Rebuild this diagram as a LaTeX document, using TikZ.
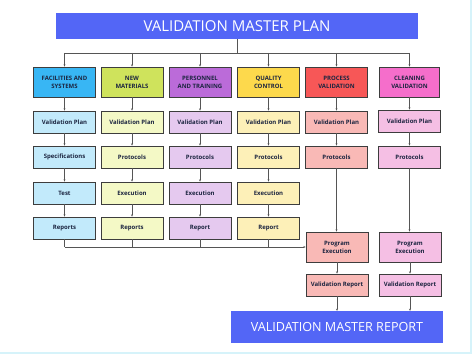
\documentclass[tikz,border=0pt]{standalone}
\usepackage{fontspec}
\setmainfont{Open Sans}
\usepackage{tikz}
\usetikzlibrary{arrows.meta, positioning, calc}

\definecolor{mainblue}{HTML}{5366F6}
\definecolor{bluehdr}{HTML}{38B6F4}
\definecolor{bluelt}{HTML}{C2EAFB}
\definecolor{limehdr}{HTML}{CFE35C}
\definecolor{limelt}{HTML}{F4F9C6}
\definecolor{purphdr}{HTML}{BB6BD9}
\definecolor{purplt}{HTML}{E5C9EF}
\definecolor{yelhdr}{HTML}{FDD94C}
\definecolor{yellt}{HTML}{FDF0B8}
\definecolor{redhdr}{HTML}{F75757}
\definecolor{redlt}{HTML}{F9B9B6}
\definecolor{pinkhdr}{HTML}{F56ECB}
\definecolor{pinklt}{HTML}{F5BFE4}
\definecolor{boxline}{HTML}{3D3D3D}
\definecolor{arrline}{HTML}{555555}
\definecolor{txt}{HTML}{1C2540}
\definecolor{framecol}{HTML}{D6F3FA}

\tikzset{
  bigbar/.style={fill=mainblue, text=white, inner sep=0pt},
  hdr/.style={draw=boxline, line width=0.9pt, minimum width=62pt, minimum height=30pt,
    inner sep=0pt, align=center, text=txt, font=\bfseries\fontsize{6}{8.2}\selectfont},
  sub/.style={hdr, minimum height=22pt},
  arr/.style={draw=arrline, line width=0.5pt, -{Stealth[length=2.2pt, width=2pt]}},
  ln/.style={draw=arrline, line width=0.5pt},
}

\begin{document}
\begin{tikzpicture}[x=1pt, y=-1pt]
        \useasboundingbox (0,0) rectangle (474,355);
        % faint frame on the right and bottom
        \draw[framecol, line width=1.5pt] (471,0) -- (471,353) -- (0,353);

        % Title and final report
        \node[bigbar, minimum width=362pt, minimum height=26pt,
              font=\fontsize{15}{17}\selectfont] (vmp) at (237,26) {VALIDATION MASTER PLAN};
        \node[bigbar, minimum width=212pt, minimum height=32pt,
              font=\fontsize{12.6}{15}\selectfont] (vmr) at (337,327) {VALIDATION MASTER REPORT};

        % Column headers
        \node[hdr, fill=bluehdr] (fac) at (64.5,82) {FACILITIES AND\\SYSTEMS};
        \node[hdr, fill=limehdr] (mat) at (132,82) {NEW\\MATERIALS};
        \node[hdr, fill=purphdr] (per) at (200,82) {PERSONNEL\\AND TRAINING};
        \node[hdr, fill=yelhdr] (qc) at (268.5,82) {QUALITY\\CONTROL};
        \node[hdr, fill=redhdr] (pv) at (336.5,82) {PROCESS\\VALIDATION};
        \node[hdr, fill=pinkhdr, minimum width=60pt] (cv) at (409.5,82) {CLEANING\\VALIDATION};

        % Facilities and systems
        \node[sub, fill=bluelt] (fac-plan) at (64.5,122) {Validation Plan};
        \node[sub, fill=bluelt] (fac-spec) at (64.5,157) {Specifications};
        \node[sub, fill=bluelt] (fac-test) at (64.5,193) {Test};
        \node[sub, fill=bluelt] (fac-rep) at (64.5,228) {Reports};

        % New materials
        \node[sub, fill=limelt] (mat-plan) at (132,122) {Validation Plan};
        \node[sub, fill=limelt] (mat-prot) at (132,157) {Protocols};
        \node[sub, fill=limelt] (mat-exec) at (132,193) {Execution};
        \node[sub, fill=limelt] (mat-rep) at (132,228) {Reports};

        % Personnel and training
        \node[sub, fill=purplt] (per-plan) at (200,122) {Validation Plan};
        \node[sub, fill=purplt] (per-prot) at (200,157) {Protocols};
        \node[sub, fill=purplt] (per-exec) at (200,193) {Execution};
        \node[sub, fill=purplt] (per-rep) at (200,228) {Report};

        % Quality control
        \node[sub, fill=yellt] (qc-plan) at (268.5,122) {Validation Plan};
        \node[sub, fill=yellt] (qc-prot) at (268.5,157) {Protocols};
        \node[sub, fill=yellt] (qc-exec) at (268.5,193) {Execution};
        \node[sub, fill=yellt] (qc-rep) at (268.5,228) {Report};

        % Process validation
        \node[sub, fill=redlt] (pv-plan) at (336.5,122) {Validation Plan};
        \node[sub, fill=redlt] (pv-prot) at (336.5,157) {Protocols};
        \node[hdr, fill=redlt] (pv-exec) at (337,247) {Program\\Execution};
        \node[sub, fill=redlt] (pv-rep) at (337,285) {Validation Report};

        % Cleaning validation
        \node[sub, fill=pinklt] (cv-plan) at (409.5,121) {Validation Plan};
        \node[sub, fill=pinklt] (cv-prot) at (409.5,157) {Protocols};
        \node[hdr, fill=pinklt] (cv-exec) at (410,247) {Program\\Execution};
        \node[sub, fill=pinklt] (cv-rep) at (410,285) {Validation Report};

        % Branching from the master plan
        \coordinate (bar) at (237,53);
        \draw[ln] (vmp) -- (bar);
        \draw[ln] (fac |- bar) -- (cv |- bar);
        \foreach \n in {fac, mat, per, qc, pv, cv}
            \draw[arr] (\n |- bar) -- (\n);

        % Steps within each column
        \foreach \a/\b in {fac/fac-plan, fac-plan/fac-spec, fac-spec/fac-test, fac-test/fac-rep,
                           mat/mat-plan, mat-plan/mat-prot, mat-prot/mat-exec, mat-exec/mat-rep,
                           per/per-plan, per-plan/per-prot, per-prot/per-exec, per-exec/per-rep,
                           qc/qc-plan, qc-plan/qc-prot, qc-prot/qc-exec, qc-exec/qc-rep,
                           pv/pv-plan, pv-plan/pv-prot, pv-exec/pv-rep,
                           cv/cv-plan, cv-plan/cv-prot, cv-exec/cv-rep}
            \draw[arr] (\a) -- (\b);
        \draw[arr] (pv-prot) -- (pv-prot |- pv-exec.north);
        \draw[arr] (cv-prot) -- (cv-prot |- cv-exec.north);

        % Reports collected into program execution
        \coordinate (collect) at (64.5,247);
        \foreach \n in {fac-rep, mat-rep, per-rep, qc-rep}
            \draw[ln] (\n) -- (\n |- collect);
        \draw[arr] (collect) -- (pv-exec);

        % Into the master report
        \draw[arr] (pv-rep) -- (pv-rep |- vmr.north);
        \draw[arr] (cv-rep) -- (cv-rep |- vmr.north);
    \end{tikzpicture}
\end{document}
